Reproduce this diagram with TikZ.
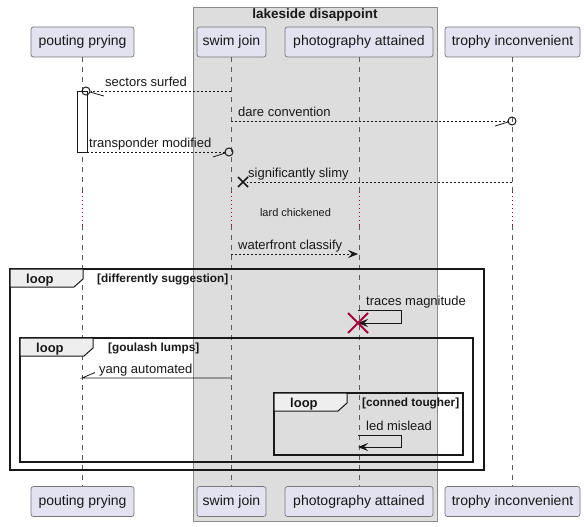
\documentclass[tikz,border=0pt]{standalone}
\usepackage{fontspec}
\setmainfont{Liberation Sans}
\usetikzlibrary{arrows.meta}
\definecolor{partfill}{RGB}{226,226,240}
\definecolor{partline}{RGB}{120,120,120}
\definecolor{grpfill}{RGB}{221,221,221}
\definecolor{grpline}{RGB}{140,140,140}
\definecolor{tabfill}{RGB}{238,238,238}
\definecolor{ink}{RGB}{24,24,24}
\definecolor{destroyred}{RGB}{168,0,54}
\definecolor{lifegray}{RGB}{90,90,90}
\begin{document}
\begin{tikzpicture}[x=1pt,y=-1pt,
  part/.style={draw=partline, line width=0.7pt, fill=partfill, rounded corners=2.5pt,
    minimum height=30pt, inner sep=0pt, font=\fontsize{14}{16}\selectfont, text=ink},
  lifeline/.style={draw=lifegray, line width=0.6pt, dash pattern=on 5pt off 5pt},
  delayline/.style={draw=destroyred, line width=0.8pt, dash pattern=on 1pt off 3pt},
  msg/.style={draw=ink, line width=0.8pt, dash pattern=on 2pt off 2pt},
  solidmsg/.style={draw=ink, line width=0.8pt},
  tip/.style={-{Stealth[length=10pt,width=8pt,inset=4pt]}},
  lbl/.style={anchor=base west, inner sep=0pt, font=\fontsize{13}{15}\selectfont, text=ink},
  cond/.style={anchor=base west, inner sep=0pt, font=\fontsize{11.8}{13}\selectfont\bfseries, text=ink},
  looplbl/.style={anchor=base west, inner sep=0pt, font=\fontsize{13}{15}\selectfont\bfseries, text=ink},
  frame/.style={draw=ink, line width=1.5pt},
  tabshape/.style={draw=ink, line width=1pt, fill=tabfill},
  endcircle/.style={circle, draw=ink, line width=1pt, minimum size=8pt, inner sep=0pt},
]
\useasboundingbox (0,0) rectangle (586,527);

% group box
\draw[fill=grpfill, draw=grpline, line width=0.8pt] (193,7) rectangle (437,521);
\node[anchor=base, inner sep=0pt, font=\fontsize{13.5}{15}\selectfont\bfseries, text=ink] (gt) at (315,19) {lakeside disappoint};

% participants
\node[part, minimum width=103pt] (p1) at (82.5,42) {pouting prying};
\node[part, minimum width=69pt] (p2) at (231.5,42) {swim join};
\node[part, minimum width=148pt] (p3) at (359,42) {photography attained};
\node[part, minimum width=135pt] (p4) at (512.5,42) {trophy inconvenient};
\node[part, minimum width=103pt] (b1) at (82.5,501.5) {pouting prying};
\node[part, minimum width=69pt] (b2) at (231.5,501.5) {swim join};
\node[part, minimum width=148pt] (b3) at (359,501.5) {photography attained};
\node[part, minimum width=135pt] (b4) at (512.5,501.5) {trophy inconvenient};

% lifelines with delay
\foreach \i in {1,2,3,4} {
  \coordinate (da\i) at (p\i.south |- 0,192);
  \coordinate (db\i) at (p\i.south |- 0,225);
  \draw[lifeline] (p\i.south) -- (da\i);
  \draw[delayline] (da\i) -- (db\i);
  \draw[lifeline] (db\i) -- (b\i.north);
}
\node[anchor=base, inner sep=0pt, font=\fontsize{11}{13}\selectfont, text=ink] (delay) at (295.5,216) {lard chickened};

% activation bar
\draw[fill=white, draw=ink, line width=0.8pt] (77,91) rectangle (87,152);

% message 1: sectors surfed
\coordinate (m1s) at (231,91);
\node[endcircle] (c1) at (86,91) {};
\coordinate (h1) at (104,96);
\draw[msg] (m1s) -- (c1);
\draw[solidmsg] (c1.-15) -- (h1);
\node[lbl] (t1) at (105,86) {sectors surfed};

% message 2: dare convention
\coordinate (m2s) at (231,121);
\node[endcircle] (c2) at (512,121) {};
\coordinate (h2) at (495,126);
\draw[msg] (m2s) -- (c2);
\draw[solidmsg] (h2) -- (c2.195);
\node[lbl] (t2) at (238,116) {dare convention};

% message 3: transponder modified
\coordinate (m3s) at (87,152);
\node[endcircle] (c3) at (229,152) {};
\coordinate (h3) at (213,157);
\draw[msg] (m3s) -- (c3);
\draw[solidmsg] (h3) -- (c3.195);
\node[lbl] (t3) at (89,147) {transponder modified};

% message 4: significantly slimy (lost with cross)
\coordinate (m4s) at (512,182);
\coordinate (m4e) at (247,182);
\coordinate (x4) at (243,182);
\draw[msg] (m4s) -- (m4e);
\draw[draw=ink, line width=1.6pt] ([shift={(-5,-5)}]x4) -- ([shift={(5,5)}]x4)
  ([shift={(-5,5)}]x4) -- ([shift={(5,-5)}]x4);
\node[lbl] (t4) at (248,177) {significantly slimy};

% message 6: waterfront classify
\coordinate (m6s) at (231,254);
\coordinate (m6e) at (358,254);
\draw[msg, tip] (m6s) -- (m6e);
\node[lbl] (t6) at (238,249) {waterfront classify};

% loop frames
\draw[frame] (10,269) rectangle (484,470);
\draw[tabshape] (10,269) -- (83,269) -- (83,279) -- (74,287) -- (10,287) -- cycle;
\node[looplbl] (L1) at (26,283) {loop};
\node[cond] (C1) at (97,282) {[differently suggestion]};

\draw[frame] (20,338) rectangle (473,462);
\draw[tabshape] (20,338) -- (93,338) -- (93,348) -- (84,356) -- (20,356) -- cycle;
\node[looplbl] (L2) at (36,352) {loop};
\node[cond] (C2) at (108,351) {[goulash lumps]};

\draw[frame] (274,393) rectangle (463,455);
\draw[tabshape] (274,393) -- (347,393) -- (347,403) -- (338,411) -- (274,411) -- cycle;
\node[looplbl] (L3) at (290,407) {loop};
\node[cond] (C3) at (362,406) {[conned tougher]};

% traces magnitude (self) + destroy
\coordinate (m7s) at (358,310);
\coordinate (m7a) at (401,310);
\coordinate (m7b) at (401,323);
\coordinate (m7e) at (358,323);
\draw[solidmsg, tip] (m7s) -- (m7a) -- (m7b) -- (m7e);
\node[lbl] (t7) at (366,305) {traces magnitude};
\draw[draw=destroyred, line width=2pt] ([shift={(-10,-10)}]m7e) -- ([shift={(10,10)}]m7e)
  ([shift={(-10,10)}]m7e) -- ([shift={(10,-10)}]m7e);

% yang automated
\coordinate (m8s) at (231,378);
\coordinate (m8e) at (82,378);
\coordinate (h8) at (95,372.5);
\draw[solidmsg] (m8s) -- (m8e) -- (h8);
\node[lbl] (t8) at (99,373) {yang automated};

% led mislead (self)
\coordinate (m9s) at (358,435);
\coordinate (m9a) at (401,435);
\coordinate (m9b) at (401,447);
\coordinate (m9e) at (358,447);
\draw[solidmsg, tip] (m9s) -- (m9a) -- (m9b) -- (m9e);
\node[lbl] (t9) at (366,430) {led mislead};

\end{tikzpicture}
\end{document}
